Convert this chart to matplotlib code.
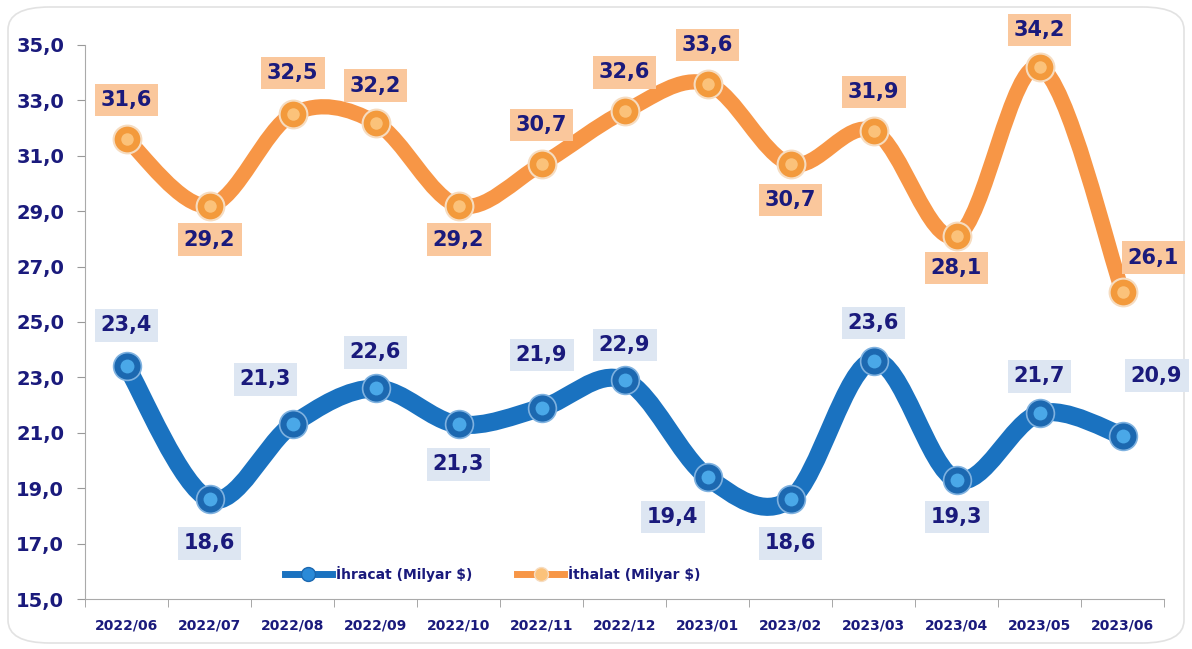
import numpy as np
import matplotlib.pyplot as plt
from matplotlib.path import Path
from matplotlib.patches import PathPatch, FancyBboxPatch
from matplotlib.lines import Line2D

# Data
months = ['2022/06', '2022/07', '2022/08', '2022/09', '2022/10', '2022/11', '2022/12',
          '2023/01', '2023/02', '2023/03', '2023/04', '2023/05', '2023/06']
ihracat = [23.4, 18.6, 21.3, 22.6, 21.3, 21.9, 22.9, 19.4, 18.6, 23.6, 19.3, 21.7, 20.9]
ithalat = [31.6, 29.2, 32.5, 32.2, 29.2, 30.7, 32.6, 33.6, 30.7, 31.9, 28.1, 34.2, 26.1]

# label offsets in pixels (dx, dy), dy positive = up
ihr_off = [(0, 41), (0, -44), (-27, 45), (0, 36), (0, -40), (0, 53), (0, 35),
           (-35, -40), (0, -44), (0, 38), (0, -37), (0, 37), (34, 60)]
ith_off = [(0, 39), (0, -34), (0, 41), (0, 37), (0, -34), (0, 39), (0, 39),
           (0, 39), (0, -36), (0, 39), (0, -32), (0, 37), (31, 34)]

navy = '#1a1a7c'
blue = '#1a72c0'
orange = '#f79646'

plt.rcParams['font.family'] = ['DejaVu Sans']

fig = plt.figure(figsize=(11.92, 6.49), dpi=100)
fig.patches.append(FancyBboxPatch((8 / 1192, 6 / 649), 1176 / 1192, 636 / 649,
                                  boxstyle='round,pad=0,rounding_size=0.035',
                                  transform=fig.transFigure, facecolor='white',
                                  edgecolor='#e2e2e2', linewidth=1.2, zorder=-1))
ax = fig.add_axes([85 / 1192, 1 - 599 / 649, 1079 / 1192, 554 / 649])
ax.set_facecolor('none')

x = np.arange(len(months))


def smooth_path(xs, ys):
    pts = np.column_stack([xs, ys]).astype(float)
    n = len(pts)
    verts = [pts[0]]
    codes = [Path.MOVETO]
    for i in range(n - 1):
        p0 = pts[i - 1] if i > 0 else pts[i]
        p3 = pts[i + 2] if i + 2 < n else pts[i + 1]
        c1 = pts[i] + (pts[i + 1] - p0) / 6
        c2 = pts[i + 1] - (p3 - pts[i]) / 6
        verts += [c1, c2, pts[i + 1]]
        codes += [Path.CURVE4] * 3
    return Path(verts, codes)


ax.add_patch(PathPatch(smooth_path(x, ihracat), fill=False, edgecolor=blue, lw=13,
                       capstyle='round', joinstyle='round', zorder=2))
ax.add_patch(PathPatch(smooth_path(x, ithalat), fill=False, edgecolor=orange, lw=11,
                       capstyle='round', joinstyle='round', zorder=2))

# glossy-ish markers
ax.plot(x, ihracat, 'o', ms=20, mfc='#1c68b0', mec='#7fb2e0', mew=1.2, zorder=3)
ax.plot(x, ihracat, 'o', ms=10, mfc='#4aa8e8', mec='none', zorder=4)
ax.plot(x, ithalat, 'o', ms=20, mfc='#f39a3c', mec='#f6dcc0', mew=1.5, zorder=3)
ax.plot(x, ithalat, 'o', ms=9, mfc='#fbc27a', mec='none', zorder=4)

px = 0.72
for xi, v, (dx, dy) in zip(x, ihracat, ihr_off):
    ax.annotate(f'{v:.1f}'.replace('.', ','), (xi, v), xytext=(dx * px, dy * px),
                textcoords='offset points', ha='center', va='center',
                fontsize=15, fontweight='bold', color=navy, zorder=5,
                bbox=dict(boxstyle='square,pad=0.3', fc='#dde6f2', ec='none'))
for xi, v, (dx, dy) in zip(x, ithalat, ith_off):
    ax.annotate(f'{v:.1f}'.replace('.', ','), (xi, v), xytext=(dx * px, dy * px),
                textcoords='offset points', ha='center', va='center',
                fontsize=15, fontweight='bold', color=navy, zorder=5,
                bbox=dict(boxstyle='square,pad=0.3', fc='#fac79c', ec='none'))

ax.set_xlim(-0.5, len(months) - 0.5)
ax.set_ylim(15, 35)
ax.set_yticks(np.arange(15, 36, 2))
ax.set_yticklabels([f'{t:.1f}'.replace('.', ',') for t in np.arange(15, 36, 2)],
                   fontsize=14, fontweight='bold', color=navy)
ax.set_xticks(x)
ax.set_xticklabels(months, fontsize=10, fontweight='bold', color=navy)
ax.set_xticks(np.arange(-0.5, len(months), 1), minor=True)
ax.tick_params(axis='x', which='major', length=0, pad=14)
ax.tick_params(axis='x', which='minor', length=6, color='#999999')
ax.tick_params(axis='y', length=6, color='#999999', pad=9)
for s in ['top', 'right']:
    ax.spines[s].set_visible(False)
for s in ['left', 'bottom']:
    ax.spines[s].set_color('#aaaaaa')

handles = [
    Line2D([], [], color=blue, lw=5, marker='o', ms=10, mfc='#2a8ad8', mec='#1c68b0'),
    Line2D([], [], color=orange, lw=5, marker='o', ms=10, mfc='#fbc27a', mec='#f6dcc0'),
]
leg = ax.legend(handles, ['İhracat (Milyar $)', 'İthalat (Milyar $)'], loc='center',
                bbox_to_anchor=(0.378, 0.045), ncol=2, frameon=False,
                prop={'weight': 'bold', 'size': 10}, handlelength=3.4,
                columnspacing=3.2, handletextpad=0.3)
for t in leg.get_texts():
    t.set_color(navy)

fig.savefig('out.png', dpi=100)
